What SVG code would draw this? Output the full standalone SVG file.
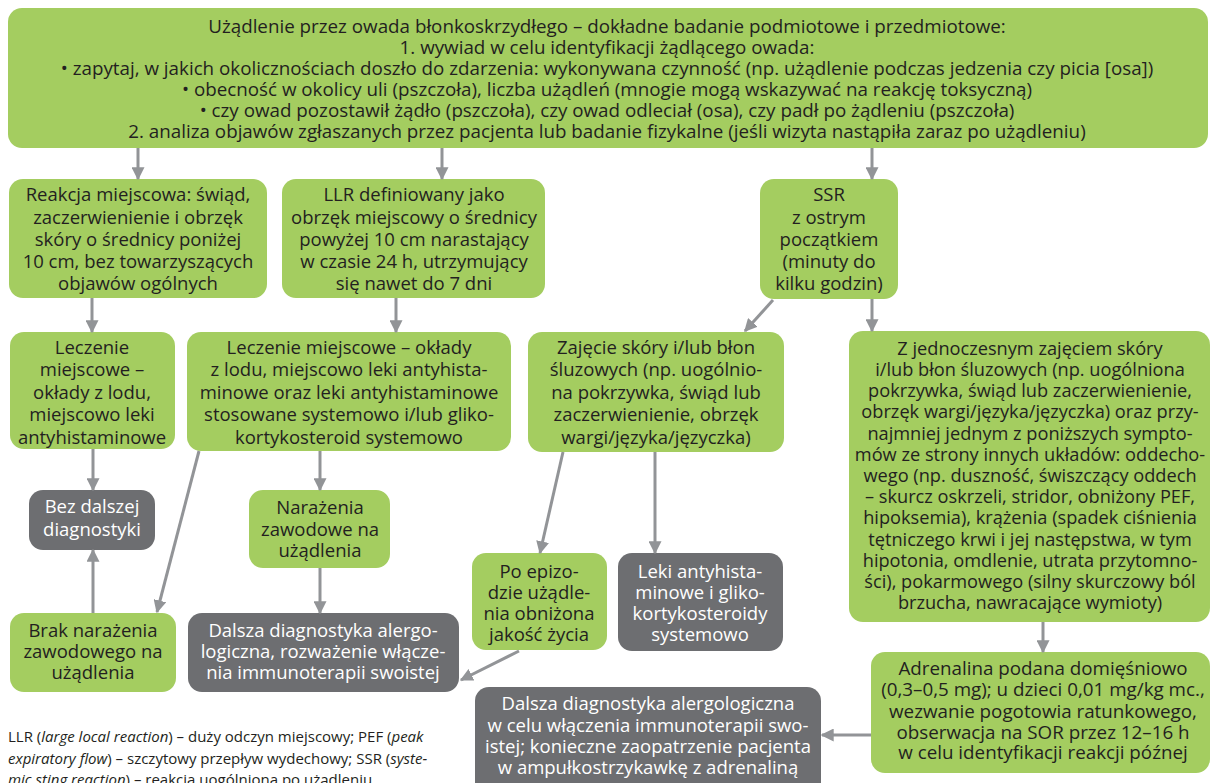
<svg xmlns="http://www.w3.org/2000/svg" width="1210" height="783" viewBox="0 0 1210 783">
<style>
.g{fill:#a4cd60}
.d{fill:#6d6e71}
text{font-family:'Open Sans','DejaVu Sans',sans-serif;font-size:18.5px;fill:#231f20;text-anchor:middle}
.w{fill:#ffffff}
.tp{font-size:18.8px}
.s{font-size:18.2px}
.a{font-size:18.8px}
.fn{text-anchor:start;font-size:15px}
.c{stroke:#929497;stroke-width:3;fill:none;marker-end:url(#ah)}
</style>
<defs>
<marker id="ah" viewBox="0 0 10 10" refX="9" refY="5" markerWidth="13" markerHeight="13" markerUnits="userSpaceOnUse" orient="auto">
<path d="M0,0 L10,5 L0,10 z" fill="#929497"/>
</marker>
</defs>
<rect width="1210" height="783" fill="#ffffff"/>

<g id="top">
<rect class="g" x="8" y="8" width="1200" height="140" rx="14"/>
<text class="tp" x="607" y="33">Użądlenie przez owada błonkoskrzydłego – dokładne badanie podmiotowe i przedmiotowe:</text>
<text class="tp" x="607" y="54">1. wywiad w celu identyfikacji żądlącego owada:</text>
<text class="tp" x="607" y="75">• zapytaj, w jakich okolicznościach doszło do zdarzenia: wykonywana czynność (np. użądlenie podczas jedzenia czy picia [osa])</text>
<text class="tp" x="607" y="96">• obecność w okolicy uli (pszczoła), liczba użądleń (mnogie mogą wskazywać na reakcję toksyczną)</text>
<text class="tp" x="607" y="117">• czy owad pozostawił żądło (pszczoła), czy owad odleciał (osa), czy padł po żądleniu (pszczoła)</text>
<text class="tp" x="607" y="138">2. analiza objawów zgłaszanych przez pacjenta lub badanie fizykalne (jeśli wizyta nastąpiła zaraz po użądleniu)</text>
</g>

<g id="local">
<rect class="g" x="9" y="179" width="258" height="119" rx="14"/>
<text x="138" y="201">Reakcja miejscowa: świąd,</text>
<text x="138" y="224">zaczerwienienie i obrzęk</text>
<text x="138" y="246">skóry o średnicy poniżej</text>
<text x="138" y="268">10 cm, bez towarzyszących</text>
<text x="138" y="290">objawów ogólnych</text>
</g>

<g id="llr">
<rect class="g" x="282" y="179" width="263" height="119" rx="14"/>
<text x="414" y="201">LLR definiowany jako</text>
<text x="414" y="224">obrzęk miejscowy o średnicy</text>
<text x="414" y="246">powyżej 10 cm narastający</text>
<text x="414" y="268">w czasie 24 h, utrzymujący</text>
<text x="414" y="290">się nawet do 7 dni</text>
</g>

<g id="ssr">
<rect class="g" x="760" y="179" width="138" height="120" rx="14"/>
<text x="829" y="201">SSR</text>
<text x="829" y="224">z ostrym</text>
<text x="829" y="246">początkiem</text>
<text x="829" y="268">(minuty do</text>
<text x="829" y="290">kilku godzin)</text>
</g>

<g id="treat1">
<rect class="g" x="10" y="332" width="165" height="117" rx="14"/>
<text x="92" y="354">Leczenie</text>
<text x="92" y="376">miejscowe –</text>
<text x="92" y="399">okłady z lodu,</text>
<text x="92" y="421">miejscowo leki</text>
<text x="92" y="444">antyhistaminowe</text>
</g>

<g id="treat2">
<rect class="g" x="187" y="332" width="324" height="119" rx="14"/>
<text x="349" y="354">Leczenie miejscowe – okłady</text>
<text x="349" y="376">z lodu, miejscowo leki antyhista-</text>
<text x="349" y="399">minowe oraz leki antyhistaminowe</text>
<text x="349" y="421">stosowane systemowo i/lub gliko-</text>
<text x="349" y="444">kortykosteroid systemowo</text>
</g>

<g id="skin">
<rect class="g" x="528" y="332" width="256" height="120" rx="14"/>
<text x="656" y="354">Zajęcie skóry i/lub błon</text>
<text x="656" y="376">śluzowych (np. uogólnio-</text>
<text x="656" y="399">na pokrzywka, świąd lub</text>
<text x="656" y="421">zaczerwienienie, obrzęk</text>
<text x="656" y="444">wargi/języka/języczka)</text>
</g>

<g id="systemic">
<rect class="g" x="849" y="331" width="361" height="291" rx="14"/>
<text class="s" x="1030" y="355">Z jednoczesnym zajęciem skóry</text>
<text class="s" x="1030" y="376">i/lub błon śluzowych (np. uogólniona</text>
<text class="s" x="1030" y="397">pokrzywka, świąd lub zaczerwienienie,</text>
<text class="s" x="1030" y="418">obrzęk wargi/języka/języczka) oraz przy-</text>
<text class="s" x="1030" y="440">najmniej jednym z poniższych sympto-</text>
<text class="s" x="1030" y="461">mów ze strony innych układów: oddecho-</text>
<text class="s" x="1030" y="482">wego (np. duszność, świszczący oddech</text>
<text class="s" x="1030" y="503">– skurcz oskrzeli, stridor, obniżony PEF,</text>
<text class="s" x="1030" y="524">hipoksemia), krążenia (spadek ciśnienia</text>
<text class="s" x="1030" y="546">tętniczego krwi i jej następstwa, w tym</text>
<text class="s" x="1030" y="567">hipotonia, omdlenie, utrata przytomno-</text>
<text class="s" x="1030" y="588">ści), pokarmowego (silny skurczowy ból</text>
<text class="s" x="1030" y="609">brzucha, nawracające wymioty)</text>
</g>

<g id="nodiag">
<rect class="d" x="29" y="490" width="126" height="60" rx="14"/>
<text class="w" x="92" y="513">Bez dalszej</text>
<text class="w" x="92" y="536">diagnostyki</text>
</g>

<g id="occup">
<rect class="g" x="249" y="490" width="141" height="78" rx="14"/>
<text x="320" y="514">Narażenia</text>
<text x="320" y="536">zawodowe na</text>
<text x="320" y="557">użądlenia</text>
</g>

<g id="quality">
<rect class="g" x="472" y="553" width="135" height="97" rx="14"/>
<text x="539" y="578">Po epizo-</text>
<text x="539" y="599">dzie użądle-</text>
<text x="539" y="620">nia obniżona</text>
<text x="539" y="641">jakość życia</text>
</g>

<g id="drugs">
<rect class="d" x="618" y="553" width="165" height="98" rx="14"/>
<text class="w" x="700" y="578">Leki antyhista-</text>
<text class="w" x="700" y="599">minowe i gliko-</text>
<text class="w" x="700" y="620">kortykosteroidy</text>
<text class="w" x="700" y="641">systemowo</text>
</g>

<g id="noexp">
<rect class="g" x="10" y="613" width="166" height="79" rx="14"/>
<text x="93" y="637">Brak narażenia</text>
<text x="93" y="658">zawodowego na</text>
<text x="93" y="679">użądlenia</text>
</g>

<g id="diag1">
<rect class="d" x="188" y="613" width="271" height="79" rx="14"/>
<text class="w" x="323" y="637">Dalsza diagnostyka alergo-</text>
<text class="w" x="323" y="658">logiczna, rozważenie włącze-</text>
<text class="w" x="323" y="679">nia immunoterapii swoistej</text>
</g>

<g id="adrenaline">
<rect class="g" x="871" y="652" width="339" height="121" rx="14"/>
<text class="a" x="1043" y="675">Adrenalina podana domięśniowo</text>
<text class="a" x="1043" y="696">(0,3–0,5 mg); u dzieci 0,01 mg/kg mc.,</text>
<text class="a" x="1043" y="718">wezwanie pogotowia ratunkowego,</text>
<text class="a" x="1043" y="739">obserwacja na SOR przez 12–16 h</text>
<text class="a" x="1043" y="759">w celu identyfikacji reakcji późnej</text>
</g>

<g id="diag2">
<rect class="d" x="475" y="687" width="346" height="112" rx="14"/>
<text class="w" x="648" y="710">Dalsza diagnostyka alergologiczna</text>
<text class="w" x="648" y="732">w celu włączenia immunoterapii swo-</text>
<text class="w" x="648" y="753">istej; konieczne zaopatrzenie pacjenta</text>
<text class="w" x="648" y="774">w ampułkostrzykawkę z adrenaliną</text>
</g>

<g id="connectors">
<line class="c" x1="138" y1="148" x2="138" y2="179"/>
<line class="c" x1="442" y1="148" x2="442" y2="179"/>
<line class="c" x1="872" y1="148" x2="872" y2="179"/>
<line class="c" x1="92" y1="298" x2="92" y2="332"/>
<line class="c" x1="396" y1="298" x2="396" y2="332"/>
<line class="c" x1="773" y1="300" x2="745" y2="331"/>
<line class="c" x1="872" y1="299" x2="872" y2="331"/>
<line class="c" x1="93" y1="449" x2="93" y2="490"/>
<line class="c" x1="199" y1="451" x2="157" y2="612"/>
<line class="c" x1="320" y1="451" x2="320" y2="490"/>
<line class="c" x1="563" y1="452" x2="540" y2="553"/>
<line class="c" x1="655" y1="452" x2="655" y2="553"/>
<line class="c" x1="93" y1="613" x2="93" y2="550"/>
<line class="c" x1="320" y1="568" x2="320" y2="613"/>
<line class="c" x1="519" y1="651" x2="461" y2="680"/>
<line class="c" x1="1043" y1="622" x2="1043" y2="652"/>
<line class="c" x1="871" y1="735" x2="822" y2="735"/>
</g>

<g id="footnote">
<text class="fn" x="8" y="742">LLR (<tspan font-style="italic">large local reaction</tspan>) – duży odczyn miejscowy; PEF (<tspan font-style="italic">peak</tspan></text>
<text class="fn" x="8" y="764"><tspan font-style="italic">expiratory flow</tspan>) – szczytowy przepływ wydechowy; SSR (<tspan font-style="italic">syste-</tspan></text>
<text class="fn" x="8" y="785"><tspan font-style="italic">mic sting reaction</tspan>) – reakcja uogólniona po użądleniu</text>
</g>
</svg>
